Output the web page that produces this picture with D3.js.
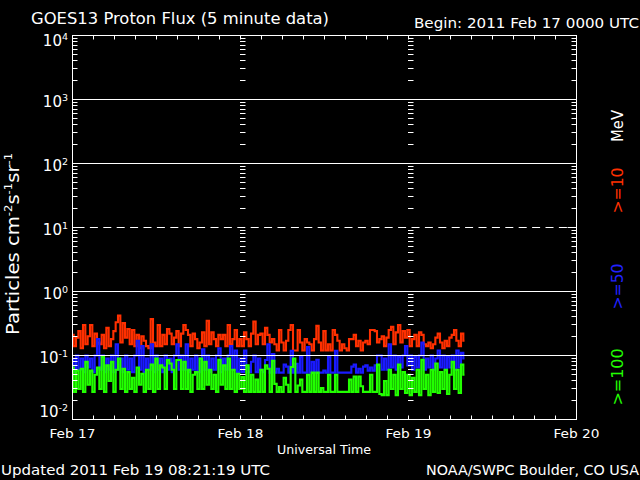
<!DOCTYPE html>
<html><head><meta charset="utf-8">
<script src="https://cdn.jsdelivr.net/npm/d3@7"></script>
<style>
body{margin:0;background:#000}
svg{display:block}
text{font-family:"DejaVu Sans",sans-serif;fill:#fff}
</style>
</head><body>
<svg id="c" width="640" height="480"></svg>
<script>
// ---- data (20-minute samples starting 2011 Feb 17 00:00 UTC) ----
const startTime = "2011-02-17T00:00:00Z";
const stepMinutes = 20;
const p10 = [
0.21,0.14,0.19,0.24,0.13,0.30,0.15,0.20,0.30,0.14,0.22,0.16,
0.15,0.21,0.13,0.27,0.14,0.18,0.24,0.33,0.42,0.16,0.32,0.19,
0.26,0.15,0.25,0.14,0.21,0.13,0.20,0.17,0.14,0.13,0.37,0.16,
0.14,0.30,0.14,0.21,0.15,0.26,0.22,0.15,0.19,0.24,0.14,0.22,
0.30,0.25,0.21,0.14,0.22,0.18,0.13,0.16,0.23,0.14,0.35,0.15,
0.23,0.18,0.14,0.21,0.18,0.21,0.14,0.30,0.15,0.18,0.25,0.14,
0.18,0.14,0.23,0.18,0.14,0.22,0.34,0.15,0.21,0.22,0.15,0.27,
0.21,0.16,0.18,0.15,0.12,0.25,0.16,0.12,0.17,0.25,0.30,0.12,
0.12,0.25,0.16,0.12,0.18,0.16,0.15,0.12,0.18,0.29,0.16,0.12,
0.24,0.12,0.15,0.12,0.25,0.21,0.17,0.12,0.15,0.13,0.12,0.18,
0.18,0.21,0.14,0.17,0.12,0.16,0.17,0.15,0.25,0.25,0.24,0.16,
0.18,0.20,0.14,0.19,0.25,0.28,0.15,0.23,0.30,0.16,0.24,0.19,
0.25,0.14,0.18,0.21,0.14,0.23,0.21,0.15,0.14,0.16,0.13,0.15,
0.19,0.22,0.16,0.13,0.17,0.14,0.19,0.21,0.25,0.17,0.14,0.22,
0.17];
const p50 = [
0.09,0.055,0.10,0.06,0.09,0.055,0.10,0.065,0.09,0.055,0.10,0.18,
0.06,0.10,0.055,0.09,0.06,0.10,0.055,0.15,0.06,0.09,0.055,0.10,
0.06,0.09,0.055,0.10,0.17,0.06,0.14,0.055,0.09,0.06,0.15,0.055,
0.10,0.06,0.09,0.055,0.10,0.06,0.09,0.055,0.10,0.15,0.06,0.10,
0.06,0.15,0.055,0.09,0.06,0.10,0.055,0.09,0.125,0.06,0.10,0.055,
0.09,0.06,0.10,0.13,0.055,0.09,0.06,0.10,0.14,0.06,0.12,0.055,
0.09,0.055,0.12,0.065,0.055,0.08,0.10,0.055,0.09,0.06,0.055,0.085,
0.15,0.054,0.105,0.054,0.062,0.054,0.054,0.072,0.067,0.054,0.118,0.054,
0.074,0.054,0.095,0.054,0.054,0.135,0.054,0.08,0.054,0.086,0.054,0.054,
0.058,0.054,0.095,0.054,0.054,0.118,0.054,0.054,0.054,0.054,0.054,0.054,
0.067,0.072,0.054,0.062,0.054,0.067,0.07,0.058,0.065,0.058,0.07,0.10,
0.10,0.06,0.09,0.06,0.15,0.065,0.10,0.06,0.095,0.065,0.10,0.14,
0.07,0.10,0.06,0.095,0.065,0.10,0.16,0.06,0.09,0.065,0.10,0.06,
0.09,0.12,0.065,0.10,0.06,0.095,0.065,0.10,0.06,0.12,0.065,0.11,
0.09];
const p100 = [
0.065,0.027,0.058,0.03,0.062,0.027,0.08,0.035,0.058,0.027,0.05,0.065,
0.03,0.095,0.027,0.07,0.04,0.08,0.027,0.06,0.09,0.03,0.062,0.027,
0.055,0.03,0.045,0.027,0.065,0.035,0.052,0.027,0.06,0.03,0.072,0.027,
0.09,0.03,0.07,0.065,0.03,0.085,0.075,0.06,0.03,0.085,0.085,0.03,
0.08,0.03,0.06,0.027,0.05,0.055,0.03,0.09,0.03,0.08,0.035,0.06,
0.03,0.05,0.027,0.086,0.035,0.07,0.03,0.09,0.03,0.06,0.027,0.052,
0.03,0.046,0.027,0.07,0.027,0.05,0.027,0.042,0.027,0.06,0.027,0.07,
0.062,0.027,0.083,0.036,0.027,0.032,0.027,0.045,0.035,0.027,0.066,0.09,
0.027,0.034,0.042,0.027,0.027,0.05,0.027,0.054,0.027,0.054,0.027,0.031,
0.027,0.027,0.05,0.027,0.027,0.05,0.027,0.027,0.027,0.027,0.027,0.042,
0.027,0.047,0.027,0.047,0.033,0.027,0.027,0.027,0.05,0.027,0.027,0.072,
0.025,0.024,0.04,0.024,0.06,0.03,0.05,0.024,0.072,0.03,0.055,0.026,
0.05,0.024,0.045,0.027,0.06,0.024,0.086,0.03,0.05,0.024,0.06,0.027,
0.075,0.026,0.055,0.03,0.06,0.025,0.05,0.08,0.03,0.06,0.026,0.072,
0.05];
const seriesNames = [">=10", ">=50", ">=100"];
const seriesColors = ["#ff3000", "#1a1aff", "#22ff00"];
const yDecades = [-2, -1, 0, 1, 2, 3, 4];
const dayTicks = ["2011-02-17T00:00:00Z","2011-02-18T00:00:00Z","2011-02-19T00:00:00Z","2011-02-20T00:00:00Z"];
const dayLabels = ["Feb 17", "Feb 18", "Feb 19", "Feb 20"];
const titleText = "GOES13 Proton Flux (5 minute data)";
const beginText = "Begin: 2011 Feb 17 0000 UTC";
const updatedText = "Updated 2011 Feb 19 08:21:19 UTC";
const creditText = "NOAA/SWPC Boulder, CO USA";
const xTitle = "Universal Time";

// ---- drawing ----
const svg = d3.select("#c");
svg.append("rect").attr("width", 640).attr("height", 480).attr("fill", "#000");

const L = 72.5, R = 576.5, T = 35.5, B = 419.5;
const t0 = new Date(startTime);
const x = d3.scaleUtc().domain([new Date(dayTicks[0]), new Date(dayTicks[3])]).range([L, R]);
const y = d3.scaleLog().domain([1e-2, 1e4]).range([B, T]);
const px = v => Math.round(v - 0.5) + 0.5;

const mk = arr => arr.map((v, i) => ({t: new Date(t0.getTime() + i * stepMinutes * 60000), v}));
const line = d3.line().x(d => x(d.t)).y(d => y(d.v)).curve(d3.curveStep);
[p10, p50, p100].forEach((arr, k) => {
  svg.append("path").attr("d", line(mk(arr))).attr("fill", "none")
    .attr("stroke", seriesColors[k]).attr("stroke-width", 2.1).attr("stroke-linejoin", "miter");
});

const g = svg.append("g").attr("stroke", "#fff").attr("stroke-width", 1).attr("fill", "none");
// horizontal grid
yDecades.slice(1, -1).forEach(d => {
  const yy = px(y(Math.pow(10, d)));
  const ln = g.append("line").attr("x1", L).attr("x2", R).attr("y1", yy).attr("y2", yy);
  if (d === 1) ln.attr("stroke-dasharray", "8,5.4").attr("stroke-dashoffset", -4);
});
// frame
g.append("rect").attr("x", L).attr("y", T).attr("width", R - L).attr("height", B - T);

// minor y ticks on left, right and day lines
const minorVals = [];
yDecades.slice(0, -1).forEach(d => { for (let m = 2; m <= 9; m++) minorVals.push(m * Math.pow(10, d)); });
const innerDays = dayTicks.slice(1, 3).map(s => px(x(new Date(s))));
minorVals.forEach(v => {
  const yy = px(y(v));
  g.append("line").attr("x1", L).attr("x2", L + 5).attr("y1", yy).attr("y2", yy);
  g.append("line").attr("x1", R - 5).attr("x2", R).attr("y1", yy).attr("y2", yy);
  innerDays.forEach(xd => g.append("line").attr("x1", xd - 0.5).attr("x2", xd + 5).attr("y1", yy).attr("y2", yy));
});
yDecades.forEach(d => {
  const yy = px(y(Math.pow(10, d)));
  g.append("line").attr("x1", L).attr("x2", L + 9).attr("y1", yy).attr("y2", yy);
  g.append("line").attr("x1", R - 9).attr("x2", R).attr("y1", yy).attr("y2", yy);
});
// x ticks every 3 hours
x.ticks(d3.utcHour.every(3)).forEach(t => {
  const xx = px(x(t));
  g.append("line").attr("x1", xx).attr("x2", xx).attr("y1", T).attr("y2", T + 4);
  g.append("line").attr("x1", xx).attr("x2", xx).attr("y1", B).attr("y2", B - 4);
});

// y tick labels (end labels pulled inside the frame as in the original)
yDecades.forEach(d => {
  let yy = y(Math.pow(10, d)) + 7;
  if (d === 4) yy = 46;
  if (d === -2) yy = 417;
  const tx = svg.append("text").attr("x", 68).attr("y", yy).attr("text-anchor", "end")
    .attr("font-size", 15);
  tx.append("tspan").text("10");
  tx.append("tspan").attr("font-size", 9.5).attr("dy", -6).text(String(d));
});

// x tick labels
dayTicks.forEach((s, i) => {
  svg.append("text").attr("x", x(new Date(s))).attr("y", 438).attr("text-anchor", "middle")
    .attr("font-size", 13).attr("textLength", 46).attr("lengthAdjust", "spacingAndGlyphs")
    .text(dayLabels[i]);
});
svg.append("text").attr("x", 324).attr("y", 454).attr("text-anchor", "middle")
  .attr("font-size", 13).attr("textLength", 94).attr("lengthAdjust", "spacingAndGlyphs").text(xTitle);

// titles
svg.append("text").attr("x", 31).attr("y", 24).attr("font-size", 15.5)
  .attr("textLength", 298).attr("lengthAdjust", "spacingAndGlyphs").text(titleText);
svg.append("text").attr("x", 414).attr("y", 28).attr("font-size", 13.5)
  .attr("textLength", 225).attr("lengthAdjust", "spacingAndGlyphs").text(beginText);
svg.append("text").attr("x", 1).attr("y", 475).attr("font-size", 13.5)
  .attr("textLength", 269).attr("lengthAdjust", "spacingAndGlyphs").text(updatedText);
svg.append("text").attr("x", 426).attr("y", 475).attr("font-size", 13.5)
  .attr("textLength", 213).attr("lengthAdjust", "spacingAndGlyphs").text(creditText);

// y axis title (rotated)
const yt = svg.append("text").attr("transform", "translate(19,244) rotate(-90)")
  .attr("text-anchor", "middle").attr("font-size", 17)
  .attr("textLength", 182).attr("lengthAdjust", "spacingAndGlyphs");
yt.append("tspan").text("Particles cm");
yt.append("tspan").attr("font-size", 10).attr("dy", -7).text("-2");
yt.append("tspan").attr("dy", 7).text("s");
yt.append("tspan").attr("font-size", 10).attr("dy", -7).text("-1");
yt.append("tspan").attr("dy", 7).text("sr");
yt.append("tspan").attr("font-size", 10).attr("dy", -7).text("-1");

// legend (rotated)
const legend = [
  {txt: "MeV", color: "#fff", c: 126, len: 32},
  {txt: seriesNames[0], color: seriesColors[0], c: 190.5, len: 46},
  {txt: seriesNames[1], color: "#2222ff", c: 286.5, len: 46},
  {txt: seriesNames[2], color: seriesColors[2], c: 377, len: 57}
];
legend.forEach(l => {
  svg.append("text").attr("transform", `translate(623,${l.c}) rotate(-90)`)
    .attr("text-anchor", "middle").attr("font-size", 16).style("fill", l.color)
    .attr("textLength", l.len).attr("lengthAdjust", "spacingAndGlyphs").text(l.txt);
});
</script>
</body></html>
